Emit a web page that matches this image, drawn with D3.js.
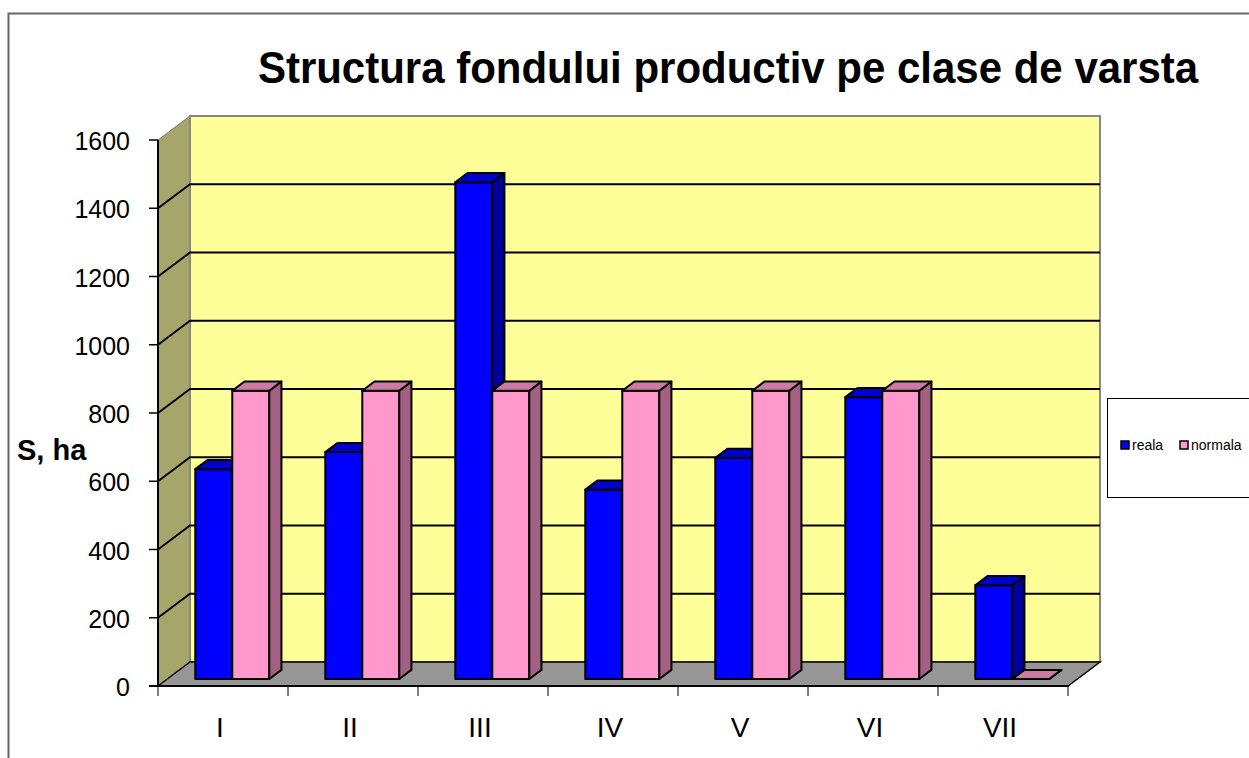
<!DOCTYPE html>
<html>
<head>
<meta charset="utf-8">
<script src="https://cdn.jsdelivr.net/npm/d3@7"></script>
<style>
  body { margin: 0; background: #fff; }
  text { font-family: Arial, "Liberation Sans", sans-serif; }
</style>
</head>
<body>
<div id="chart"></div>
<script>
var categories = ["I", "II", "III", "IV", "V", "VI", "VII"];
var seriesNames = ["reala", "normala"];
var reala = [615, 665, 1456, 555, 648, 826, 275];
var normala = [845, 845, 845, 845, 845, 845, 0];
var yTicks = [0, 200, 400, 600, 800, 1000, 1200, 1400, 1600];

var W = 1249, H = 758;
var front = { left: 158, right: 1068, top: 140, bottom: 686 };
var depth = { dx: 32, dy: -24 };

var colors = {
    reala: { front: "#0000ff", side: "#00009c", top: "#0000cc" },
    normala: { front: "#ff99cc", side: "#a36083", top: "#cc7aa3" }
};

var svg = d3.select("#chart").append("svg")
    .attr("width", W)
    .attr("height", H);

// outer frame (left and top only visible)
svg.append("path")
    .attr("d", "M8.5," + H + "V13.5H" + W)
    .attr("fill", "none")
    .attr("stroke", "#666")
    .attr("stroke-width", 2);

var x = d3.scaleBand().domain(categories).range([front.left, front.right]);
var xs = d3.scaleBand().domain(seriesNames).range([28, x.bandwidth() - 28]);
var y = d3.scaleLinear().domain([0, 1600]).range([front.bottom, front.top]);

// project a point on the front plane pushed back by depth fraction f
function P(px, py, f) {
    return [px + depth.dx * f, py + depth.dy * f];
}
function poly(pts) {
    return "M" + pts.map(function (p) { return p[0] + "," + p[1]; }).join("L") + "Z";
}

// walls
svg.append("path")
    .attr("d", poly([P(front.left, y(1600), 0), P(front.left, y(1600), 1), P(front.left, y(0), 1), P(front.left, y(0), 0)]))
    .attr("fill", "#a6a66a")
    .attr("stroke", "#777")
    .attr("stroke-width", 1);

svg.append("path")
    .attr("d", poly([P(front.left, y(1600), 1), P(front.right, y(1600), 1), P(front.right, y(0), 1), P(front.left, y(0), 1)]))
    .attr("fill", "#ffff99")
    .attr("stroke", "#888")
    .attr("stroke-width", 2);

svg.append("path")
    .attr("d", poly([P(front.left, y(0), 0), P(front.left, y(0), 1), P(front.right, y(0), 1), P(front.right, y(0), 0)]))
    .attr("fill", "#969696")
    .attr("stroke", "#000")
    .attr("stroke-width", 1.5);

// gridlines on side and back wall
svg.selectAll(".grid")
    .data(yTicks.filter(function (d) { return d > 0 && d < 1600; }))
    .enter().append("path")
    .attr("class", "grid")
    .attr("d", function (d) {
        var a = P(front.left, y(d), 0), b = P(front.left, y(d), 1), c = P(front.right, y(d), 1);
        return "M" + a + "L" + b + "L" + c;
    })
    .attr("fill", "none")
    .attr("stroke", "#000")
    .attr("stroke-width", 2);

// bars
var f0 = 0.29, f1 = 0.67;
var bars = [];
categories.forEach(function (c, i) {
    bars.push({ cat: c, s: "reala", v: reala[i] });
    bars.push({ cat: c, s: "normala", v: normala[i] });
});

var g = svg.selectAll(".bar").data(bars).enter().append("g").attr("class", "bar");
g.each(function (d) {
    var x0 = x(d.cat) + xs(d.s), x1 = x0 + xs.bandwidth();
    var yb = y(0), yt = y(d.v);
    var sel = d3.select(this);
    var c = colors[d.s];
    sel.append("path")
        .attr("d", poly([P(x0, yb, f0), P(x0, yt, f0), P(x1, yt, f0), P(x1, yb, f0)]))
        .attr("fill", c.front);
    sel.append("path")
        .attr("d", poly([P(x1, yb, f0), P(x1, yt, f0), P(x1, yt, f1), P(x1, yb, f1)]))
        .attr("fill", c.side);
    sel.append("path")
        .attr("d", poly([P(x0, yt, f0), P(x0, yt, f1), P(x1, yt, f1), P(x1, yt, f0)]))
        .attr("fill", c.top);
    sel.selectAll("path")
        .attr("stroke", "#000")
        .attr("stroke-width", 2)
        .attr("stroke-linejoin", "round");
});

// y axis
svg.append("line")
    .attr("x1", front.left).attr("x2", front.left)
    .attr("y1", front.top).attr("y2", front.bottom)
    .attr("stroke", "#000").attr("stroke-width", 2);

svg.selectAll(".ytick").data(yTicks).enter().append("line")
    .attr("x1", front.left - 9).attr("x2", front.left)
    .attr("y1", function (d) { return y(d); })
    .attr("y2", function (d) { return y(d); })
    .attr("stroke", "#000").attr("stroke-width", 1.5);

svg.selectAll(".ylab").data(yTicks).enter().append("text")
    .attr("x", 130)
    .attr("y", function (d) { return y(d) + 10; })
    .attr("text-anchor", "end")
    .style("font-size", "25px")
    .text(function (d) { return d; });

// x axis
svg.append("line")
    .attr("x1", front.left - 9).attr("x2", front.right)
    .attr("y1", front.bottom).attr("y2", front.bottom)
    .attr("stroke", "#000").attr("stroke-width", 2);

var xBounds = categories.map(function (c) { return x(c); }).concat([front.right]);
svg.selectAll(".xtick").data(xBounds).enter().append("line")
    .attr("x1", function (d) { return d; })
    .attr("x2", function (d) { return d; })
    .attr("y1", front.bottom)
    .attr("y2", front.bottom + 10)
    .attr("stroke", "#000").attr("stroke-width", 1);

svg.selectAll(".xlab").data(categories).enter().append("text")
    .attr("x", function (d) { return x(d) + x.bandwidth() / 2 - 3; })
    .attr("y", 737)
    .attr("text-anchor", "middle")
    .style("font-size", "28px")
    .text(function (d) { return d; });

// titles
svg.append("text")
    .attr("transform", "translate(728,83) scale(1,1.05)")
    .attr("text-anchor", "middle")
    .style("font-size", "42px")
    .style("font-weight", "bold")
    .text("Structura fondului productiv pe clase de varsta");

svg.append("text")
    .attr("x", 17)
    .attr("y", 460)
    .style("font-size", "29px")
    .style("font-weight", "bold")
    .text("S, ha");

// legend
var lg = svg.append("g").attr("transform", "translate(1107,398)");
lg.append("rect")
    .attr("x", 0.5).attr("y", 0.5)
    .attr("width", 150).attr("height", 99)
    .attr("fill", "#fff")
    .attr("stroke", "#000")
    .attr("stroke-width", 1);

var items = [{ s: "reala", x: 14 }, { s: "normala", x: 73 }];
items.forEach(function (it) {
    lg.append("rect")
        .attr("x", it.x).attr("y", 43)
        .attr("width", 8).attr("height", 8)
        .attr("fill", colors[it.s].front)
        .attr("stroke", "#000").attr("stroke-width", 1.5);
    lg.append("text")
        .attr("x", it.x + 11).attr("y", 52)
        .style("font-size", "14px")
        .text(it.s);
});
</script>
</body>
</html>
